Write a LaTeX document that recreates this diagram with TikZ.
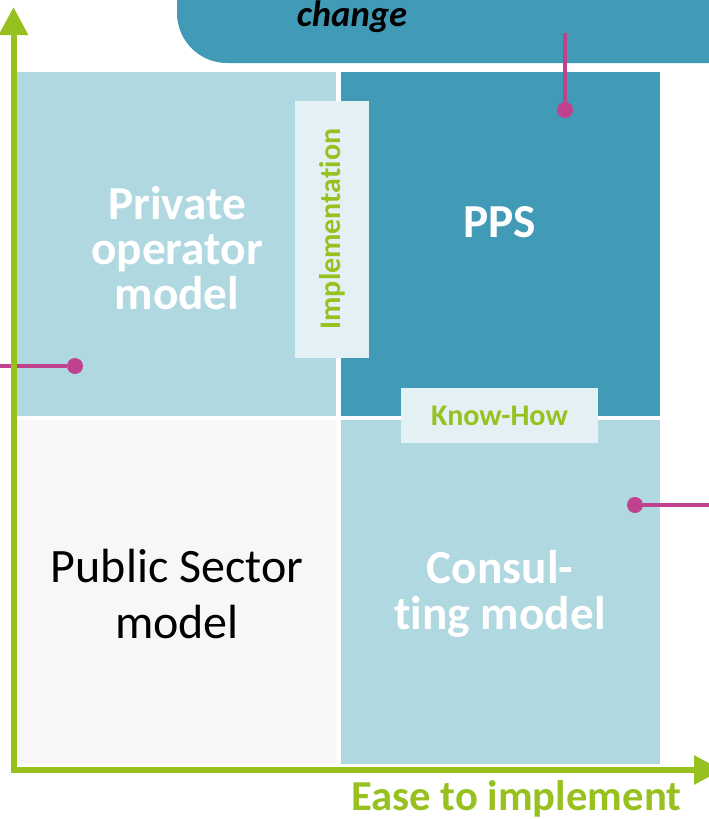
\documentclass[tikz,border=0pt]{standalone}
\usepackage{fontspec}
\setmainfont[Ligatures=NoCommon]{Carlito}
\usetikzlibrary{arrows.meta}
\definecolor{qblue}{HTML}{B0D8E1}
\definecolor{pblue}{HTML}{429BB6}
\definecolor{pale}{HTML}{E3F1F5}
\definecolor{qgray}{HTML}{F7F7F7}
\definecolor{lime}{HTML}{97C11F}
\definecolor{plum}{HTML}{C0428F}
\tikzset{
  axis/.style={draw=lime, line width=4.5pt, {Triangle[length=21pt,width=21pt]}-{Triangle[length=21pt,width=21pt]}},
  pin/.style={draw=plum, line width=3pt},
  dot/.style={circle, fill=plum, inner sep=0pt, minimum size=12pt},
  big/.style={font=\fontsize{35.5}{34}\selectfont\bfseries, text=white, align=center},
  plain/.style={font=\fontsize{36}{42}\selectfont, text=black, align=center},
  tag/.style={font=\fontsize{22.5}{24}\selectfont\bfseries, text=lime, fill=pale, inner sep=0pt},
}
\begin{document}
\begin{tikzpicture}[x=0.75pt,y=-0.75pt]
\useasboundingbox (0,0) rectangle (709,819);
% banner on top, rounded at its lower left
\fill[pblue] (720,-10) -- (177,-10) -- (177,13) .. controls (177,40.6) and (199.4,63) .. (227,63) -- (720,63) -- cycle;
\node[font=\fontsize{27.5}{30}\selectfont\bfseries\itshape, anchor=base] (chg) at (352,26) {change};
% quadrants
\fill[qblue] (17,72) rectangle (336,416);
\fill[pblue] (341,72) rectangle (660,416);
\fill[qgray] (17,420) rectangle (336,764);
\fill[qblue] (341,420) rectangle (660,764);
\node[big] (priv) at (177,248) {Private\\operator\\model};
\node[big] (pps) at (500,222) {PPS};
\node[plain] (pub) at (177,594) {Public Sector\\model};
\node[big] (cons) at (500,594) {Consul-\\ting model};
% overlapping tags
\node[tag, rotate=90, minimum width=192.75pt, minimum height=55.5pt] (impl) at (332,229) {Implementation};
\node[tag, minimum width=147.75pt, minimum height=41.25pt] (know) at (499.5,415.5) {Know-How};
% pins
\node[dot] (dtop) at (565,110) {};
\node[dot] (dleft) at (75,366) {};
\node[dot] (dright) at (635,505) {};
\coordinate (ctop) at (565,33);
\coordinate (cleft) at (0,366);
\coordinate (cright) at (709,505);
\draw[pin] (ctop) -- (dtop);
\draw[pin] (cleft) -- (dleft);
\draw[pin] (dright) -- (cright);
% axes
\coordinate (origin) at (13.5,770);
\coordinate (ytip) at (13.5,7);
\coordinate (xtip) at (722,770);
\draw[axis] (ytip) -- (origin) -- (xtip);
\node[font=\fontsize{32}{34}\selectfont\bfseries, text=lime, anchor=base east] (ease) at (686,810) {Ease to implement};
\end{tikzpicture}
\end{document}
